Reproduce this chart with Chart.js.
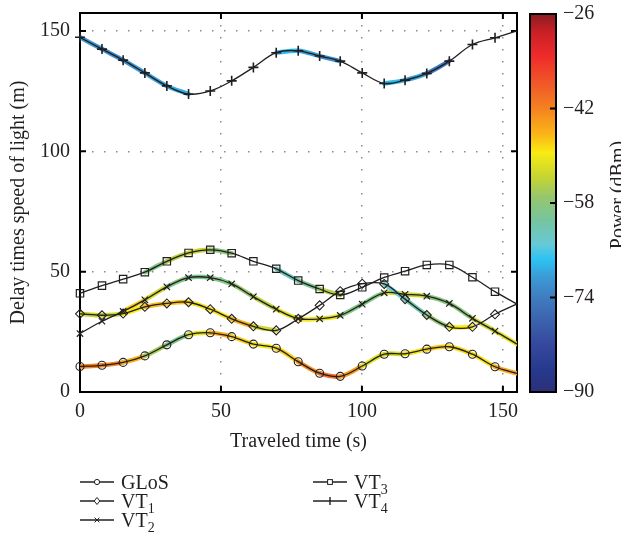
<!DOCTYPE html>
<html>
<head>
<meta charset="utf-8">
<script src="https://cdn.jsdelivr.net/npm/chart.js@4.4.1/dist/chart.umd.min.js"></script>
<style>
html, body { margin: 0; padding: 0; background: #fff; }
#wrap { position: relative; width: 621px; height: 545px; overflow: hidden; }
#wrap canvas { position: absolute; left: 0; top: 0; }
#legend { position: absolute; left: 0; top: 0; font-family: "Liberation Serif", serif; font-size: 20px; color: #231f20; }
.item { position: absolute; white-space: nowrap; height: 20px; line-height: 20px; }
.item svg { position: absolute; left: 0; top: 3px; }
.item span { position: absolute; left: 41px; top: 0; }
sub { font-size: 14px; vertical-align: -5px; line-height: 0; }
</style>
</head>
<body>
<div id="wrap">
  <canvas id="plot" width="621" height="545"></canvas>
  <canvas id="bar" width="621" height="545"></canvas>
  <div id="legend"></div>
</div>
<script>
// marker times (s) and delays (m)
var timeS = [0, 7.8, 15.3, 23, 30.8, 38.5, 46.2, 53.8, 61.5, 69.6, 77.4, 85, 92.3, 100.1, 107.9, 115.3, 123, 131, 139.2, 147.2, 155];
var glos = [10.6, 11.1, 12.3, 15, 19.6, 23.8, 24.6, 23, 19.9, 18.2, 12.6, 7.8, 6.5, 10.8, 15.7, 15.9, 17.8, 18.8, 15.7, 10.5, 7.7];
var vt1  = [32.5, 31.9, 32.6, 35.4, 36.8, 37.3, 34.4, 30.4, 27.3, 25.6, 30.4, 36, 41.9, 45, 44.9, 38.6, 32, 27.1, 27.1, 32.3, 36.6];
var vt2  = [24.3, 29.4, 33.5, 38.3, 43.7, 47.5, 47.5, 44.9, 39.6, 34.4, 30.5, 30.4, 31.8, 36.5, 41.2, 40.6, 39.8, 36.8, 30.6, 25.3, 19.9];
var vt3  = [41, 44.2, 46.9, 49.8, 54.3, 57.8, 59.1, 57.7, 54.3, 51.2, 46.3, 42.8, 40.3, 43.5, 47.6, 50.2, 52.8, 52.8, 47.7, 41.7, 36.5];
var vt4  = [147.4, 142.5, 137.9, 132.6, 127.2, 123.8, 125.1, 129.3, 134.9, 141, 141.8, 139.6, 137.5, 132.6, 128.2, 129.6, 132.4, 137.5, 144.4, 147.2, 150.1];

// received power along each path (dBm), null = no sample
var glosPower = [-42, -42, -42, -50, -62, -57, -45, -46, -50, -50, -46, -40, -40, -48, -55, -50, -48, -47, -50, -48, -42];
var vt1Power  = [-52, -55, -52, -47, -46, -48, -50, -48, -44, -62, null, null, null, null, -64, -64, -60, -55, -44, null, null];
var vt2Power  = [null, null, -48, -47, -58, -60, -60, -58, -56, -53, -50, -50, -52, -66, -52, -52, -55, -62, -55, -52, -50];
var vt3Power  = [null, null, null, -62, -56, -53, -54, -62, null, -64, -62, -58, -52, null, null, null, null, null, null, null, null];
var vt4Power  = [-70, -72, -72, -70, -70, -68, null, null, null, -68, -68, -72, -72, null, -68, -68, -72, -76, null, null, null];

var xTicks = [0, 50, 100, 150];
var yTicks = [0, 50, 100, 150];
var powerTicks = [-90, -74, -58, -42, -26];
var powerMin = -90, powerMax = -26;

var serif = '"Liberation Serif", serif';
var ink = '#231f20';
var fsize = 20;

// colour map of the power bar
var cmap = [
  [-90, [45, 47, 120]], [-86, [38, 58, 142]], [-82, [53, 72, 158]], [-78, [60, 98, 173]],
  [-74, [63, 124, 192]], [-70.5, [59, 155, 213]], [-67.5, [44, 195, 243]], [-65, [103, 201, 216]],
  [-61, [118, 197, 160]], [-57, [150, 198, 108]], [-53.5, [199, 213, 48]], [-49.5, [247, 236, 19]],
  [-46.5, [251, 183, 23]], [-42, [245, 130, 32]], [-38, [240, 90, 40]], [-33, [238, 42, 42]],
  [-29, [200, 32, 38]], [-26, [139, 28, 31]]
];
function powerColor(p) {
  if (p <= cmap[0][0]) return 'rgb(' + cmap[0][1].join(',') + ')';
  for (var i = 1; i < cmap.length; i++) {
    if (p <= cmap[i][0]) {
      var a = cmap[i - 1], b = cmap[i];
      var t = (p - a[0]) / (b[0] - a[0]);
      var c = a[1].map(function (v, k) { return Math.round(v + (b[1][k] - v) * t); });
      return 'rgb(' + c.join(',') + ')';
    }
  }
  return 'rgb(' + cmap[cmap.length - 1][1].join(',') + ')';
}

function lineSet(label, values, shape, r, bw) {
  return {
    label: label,
    data: values.map(function (v, i) { return { x: timeS[i], y: v }; }),
    borderColor: ink, borderWidth: 1.3, tension: 0.35,
    pointStyle: shape,
    pointRadius: function (ctx) { return ctx.dataIndex < timeS.length - 1 ? r : 0; },
    pointBorderColor: ink, pointBackgroundColor: 'rgba(0,0,0,0)', pointBorderWidth: bw,
    order: 0, clip: 8
  };
}
function traceSet(values, power) {
  return {
    label: '',
    data: values.map(function (v, i) { return { x: timeS[i], y: power[i] == null ? null : v }; }),
    borderWidth: 4.5, tension: 0.35, pointRadius: 0, spanGaps: false,
    borderColor: '#999', borderCapStyle: 'round',
    segment: {
      borderColor: function (ctx) {
        return powerColor((power[ctx.p0DataIndex] + power[ctx.p1DataIndex]) / 2);
      }
    },
    order: 1
  };
}

// no extra label padding, so the layout padding gives the plot box
function noPad(s) {
  s.paddingTop = 0; s.paddingBottom = 0; s.paddingLeft = 0; s.paddingRight = 0;
}

var frame = {
  id: 'frame',
  beforeDatasetsDraw: function (chart) {
    var c = chart.ctx, a = chart.chartArea, sx = chart.scales.x, sy = chart.scales.y;
    c.save();
    c.setLineDash([]);
    c.strokeStyle = '#000';
    c.lineWidth = 2;
    c.strokeRect(a.left, a.top, a.right - a.left, a.bottom - a.top);
    xTicks.forEach(function (v) {
      if (v === 0) return;
      var px = sx.getPixelForValue(v);
      c.beginPath();
      c.moveTo(px, a.bottom); c.lineTo(px, a.bottom - 6);
      c.moveTo(px, a.top); c.lineTo(px, a.top + 6);
      c.stroke();
    });
    yTicks.forEach(function (v) {
      if (v === 0) return;
      var py = sy.getPixelForValue(v);
      c.beginPath();
      c.moveTo(a.left, py); c.lineTo(a.left + 6, py);
      c.moveTo(a.right, py); c.lineTo(a.right - 6, py);
      c.stroke();
    });
    c.restore();
  }
};

function gridColor(ctx) {
  return ctx.tick && ctx.tick.value === 0 ? 'rgba(0,0,0,0)' : '#8c8c8c';
}

var plot = new Chart(document.getElementById('plot'), {
  type: 'line',
  data: {
    datasets: [
      lineSet('GLoS', glos, 'circle', 4, 1.1),
      lineSet('VT1', vt1, 'rectRot', 4.5, 1.1),
      lineSet('VT2', vt2, 'crossRot', 4.5, 1.2),
      lineSet('VT3', vt3, 'rect', 5.2, 1.2),
      lineSet('VT4', vt4, 'cross', 5, 1.6),
      traceSet(glos, glosPower),
      traceSet(vt1, vt1Power),
      traceSet(vt2, vt2Power),
      traceSet(vt3, vt3Power),
      traceSet(vt4, vt4Power)
    ]
  },
  options: {
    responsive: false,
    animation: false,
    layout: { padding: { top: 13, right: 104, bottom: 91, left: 0 } },
    plugins: { legend: { display: false }, tooltip: { enabled: false } },
    scales: {
      x: {
        type: 'linear', min: 0, max: 155,
        afterBuildTicks: function (s) { s.ticks = xTicks.map(function (v) { return { value: v }; }); },
        ticks: { padding: 8, color: ink, font: { family: serif, size: fsize }, maxRotation: 0 },
        grid: { drawTicks: false, color: gridColor, lineWidth: 1.5 },
        border: { display: false, dash: [1.5, 10.5] },
        title: { display: true, text: 'Traveled time (s)', color: ink, font: { family: serif, size: fsize }, padding: { top: 0, bottom: 0 } },
        afterFit: function (s) { s.height = 62; noPad(s); }
      },
      y: {
        min: 0, max: 157.5,
        afterBuildTicks: function (s) { s.ticks = yTicks.map(function (v) { return { value: v }; }); },
        ticks: { padding: 10, color: ink, font: { family: serif, size: fsize } },
        grid: { drawTicks: false, color: gridColor, lineWidth: 1.5 },
        border: { display: false, dash: [1.5, 10.5] },
        title: { display: true, text: 'Delay times speed of light (m)', color: ink, font: { family: serif, size: fsize }, padding: { top: 7, bottom: 0 } },
        afterFit: function (s) { s.width = 80; noPad(s); }
      }
    }
  },
  plugins: [frame]
});

var barFrame = {
  id: 'barFrame',
  afterDraw: function (chart) {
    var c = chart.ctx, a = chart.chartArea, sy = chart.scales.y;
    c.save();
    c.strokeStyle = '#000';
    c.lineWidth = 2;
    c.strokeRect(a.left, a.top, a.right - a.left, a.bottom - a.top);
    powerTicks.forEach(function (v) {
      if (v === powerMin || v === powerMax) return;
      var py = sy.getPixelForValue(v);
      c.beginPath(); c.moveTo(a.right, py); c.lineTo(a.right - 6, py); c.stroke();
    });
    c.translate(624, 195);
    c.rotate(-Math.PI / 2);
    c.fillStyle = ink;
    c.font = fsize + 'px ' + serif;
    c.textAlign = 'center';
    c.textBaseline = 'alphabetic';
    c.fillText('Power (dBm)', 0, 0);
    c.restore();
  }
};

var bar = new Chart(document.getElementById('bar'), {
  type: 'bar',
  data: {
    labels: ['power'],
    datasets: [{
      data: [[powerMin, powerMax]],
      backgroundColor: function (ctx) {
        var a = ctx.chart.chartArea;
        if (!a) return '#888';
        var g = ctx.chart.ctx.createLinearGradient(0, a.bottom, 0, a.top);
        cmap.forEach(function (s) { g.addColorStop((s[0] - powerMin) / (powerMax - powerMin), powerColor(s[0])); });
        return g;
      },
      borderWidth: 0, barPercentage: 1, categoryPercentage: 1
    }]
  },
  options: {
    responsive: false,
    animation: false,
    layout: { padding: { top: 14, right: 0, bottom: 153, left: 530 } },
    plugins: { legend: { display: false }, tooltip: { enabled: false } },
    scales: {
      x: { display: false },
      y: {
        position: 'right', min: powerMin, max: powerMax,
        afterBuildTicks: function (s) { s.ticks = powerTicks.map(function (v) { return { value: v }; }); },
        ticks: { padding: 7, color: ink, font: { family: serif, size: fsize },
          callback: function (v) { return '\u2212' + Math.abs(v); } },
        grid: { display: false, drawTicks: false },
        border: { display: false },
        afterFit: function (s) { s.width = 65; noPad(s); }
      }
    }
  },
  plugins: [barFrame]
});

// legend below the plot, two columns like the original
var legendItems = [
  { name: 'GLoS', sub: '', shape: 'circle', left: 80, top: 472 },
  { name: 'VT', sub: '1', shape: 'diamond', left: 80, top: 491 },
  { name: 'VT', sub: '2', shape: 'x', left: 80, top: 510 },
  { name: 'VT', sub: '3', shape: 'square', left: 313, top: 472 },
  { name: 'VT', sub: '4', shape: 'plus', left: 313, top: 491 }
];
function icon(shape) {
  var m = '';
  if (shape === 'circle') m = '<circle cx="17" cy="7" r="2.6" fill="#fff" stroke="' + ink + '" stroke-width="1"/>';
  if (shape === 'diamond') m = '<path d="M17 3.5 L19.8 7 L17 10.5 L14.2 7 Z" fill="#fff" stroke="' + ink + '" stroke-width="1"/>';
  if (shape === 'x') m = '<path d="M14.6 4.6 L19.4 9.4 M19.4 4.6 L14.6 9.4" stroke="' + ink + '" stroke-width="1"/>';
  if (shape === 'square') m = '<rect x="14.6" y="4.6" width="4.8" height="4.8" fill="#fff" stroke="' + ink + '" stroke-width="1"/>';
  if (shape === 'plus') m = '<path d="M17 3 L17 11" stroke="' + ink + '" stroke-width="1.4"/>';
  return '<svg width="34" height="14"><line x1="0" y1="7" x2="34" y2="7" stroke="' + ink + '" stroke-width="1.6"/>' + m + '</svg>';
}
var lg = document.getElementById('legend');
legendItems.forEach(function (it) {
  var d = document.createElement('div');
  d.className = 'item';
  d.style.left = it.left + 'px';
  d.style.top = it.top + 'px';
  d.innerHTML = icon(it.shape) + '<span>' + it.name + (it.sub ? '<sub>' + it.sub + '</sub>' : '') + '</span>';
  lg.appendChild(d);
});
</script>
</body>
</html>
